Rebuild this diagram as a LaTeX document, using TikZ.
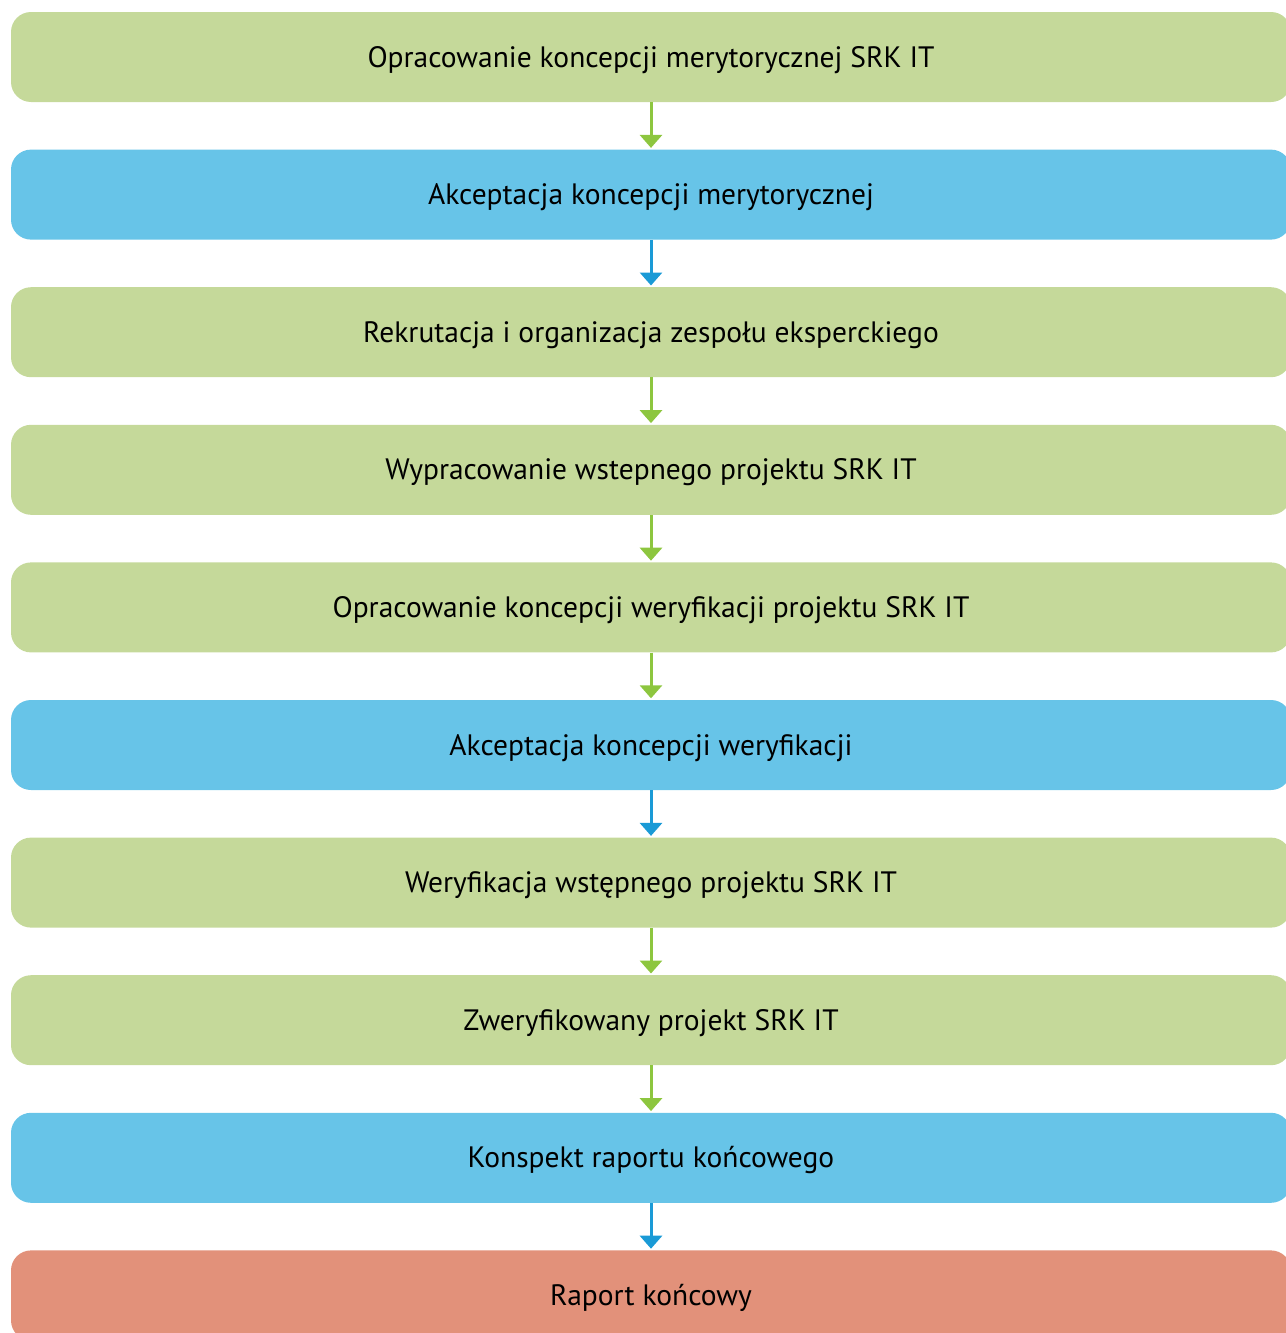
\documentclass[tikz,border=0pt]{standalone}
\usepackage{fontspec}
\setmainfont{PT Sans}
\usetikzlibrary{positioning,arrows.meta}

\definecolor{boxgreen}{HTML}{C5D99A}
\definecolor{boxblue}{HTML}{67C4E8}
\definecolor{boxred}{HTML}{E2917A}
\definecolor{arrgreen}{HTML}{8DC63F}
\definecolor{arrblue}{HTML}{1A9AD6}

\begin{document}
\begin{tikzpicture}[x=1pt,y=-1pt,node distance=47.2pt,
  main node/.style={rectangle,rounded corners=20pt,minimum width=1280pt,minimum height=90pt,inner sep=0pt,text height=20pt,text depth=0pt,font=\fontsize{29.5}{33}\selectfont},
  green node/.style={main node,fill=boxgreen},
  blue node/.style={main node,fill=boxblue},
  red node/.style={main node,fill=boxred},
  link/.style={-{Triangle[width=22pt,length=13pt]},line width=3pt,shorten >=1.5pt},
  green link/.style={link,draw=arrgreen},
  blue link/.style={link,draw=arrblue}]
  \useasboundingbox (0,0) rectangle (1285,1333);
  \node[green node] (1) at (651,57) {Opracowanie koncepcji merytorycznej SRK IT};
  \node[blue node] (2) [below=of 1] {Akceptacja koncepcji merytorycznej};
  \node[green node] (3) [below=of 2] {Rekrutacja i organizacja zespołu eksperckiego};
  \node[green node] (4) [below=of 3] {Wypracowanie wstepnego projektu SRK IT};
  \node[green node] (5) [below=of 4] {Opracowanie koncepcji weryfikacji projektu SRK IT};
  \node[blue node] (6) [below=of 5] {Akceptacja koncepcji weryfikacji};
  \node[green node] (7) [below=of 6] {Weryfikacja wstępnego projektu SRK IT};
  \node[green node] (8) [below=of 7] {Zweryfikowany projekt SRK IT};
  \node[blue node] (9) [below=of 8] {Konspekt raportu końcowego};
  \node[red node] (10) [below=of 9] {Raport końcowy};
  \path (1) edge[green link] (2)
        (3) edge[green link] (4)
        (4) edge[green link] (5)
        (5) edge[green link] (6)
        (7) edge[green link] (8)
        (8) edge[green link] (9);
  \path (2) edge[blue link] (3)
        (6) edge[blue link] (7)
        (9) edge[blue link] (10);
\end{tikzpicture}
\end{document}
